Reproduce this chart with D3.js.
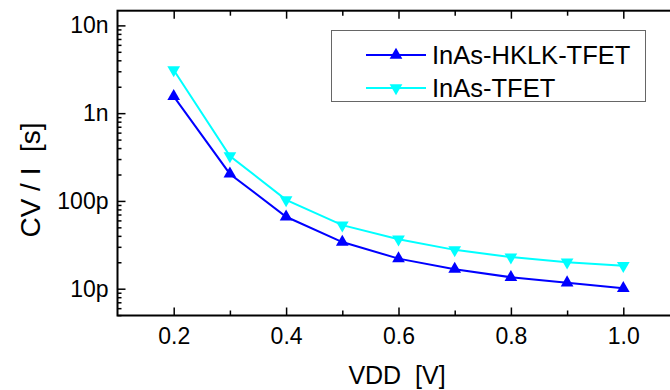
<!DOCTYPE html>
<html>
<head>
<meta charset="utf-8">
<script src="https://cdn.jsdelivr.net/npm/d3@7/dist/d3.min.js"></script>
<style>
  body { margin: 0; background: #fff; }
  text { font-family: Arial, "Liberation Sans", sans-serif; fill: #000; white-space: pre; }
</style>
</head>
<body>
<svg id="chart" width="670" height="390"></svg>
<script>
// supply voltage (V)
var vdd = [0.2, 0.3, 0.4, 0.5, 0.6, 0.7, 0.8, 0.9, 1.0];
// CV/I delay (s)
var hklkDelay = [1.55e-9, 2.03e-10, 6.6e-11, 3.4e-11, 2.2e-11, 1.67e-11, 1.35e-11, 1.17e-11, 1.01e-11];
var tfetDelay = [3.1e-9, 3.25e-10, 1.03e-10, 5.3e-11, 3.66e-11, 2.77e-11, 2.29e-11, 2.0e-11, 1.83e-11];
var seriesNames = ["InAs-HKLK-TFET", "InAs-TFET"];
var xMajor = [0.2, 0.4, 0.6, 0.8, 1.0];
var xMinor = [0.3, 0.5, 0.7, 0.9];
var yMajor = [1e-11, 1e-10, 1e-9, 1e-8];
var yLabels = ["10p", "100p", "1n", "10n"];

var svg = d3.select('#chart');

var plotL = 117.5, plotR = 679.5, plotT = 10.7, plotB = 315.5;

var x = d3.scaleLinear().domain([0.1, 1.1]).range([plotL, plotR]);
var y = d3.scaleLog().domain([4.95e-12, 1.47e-8]).range([plotB, plotT]);

// minor y ticks: 2..9 per decade inside the domain
var yMinor = [];
[1e-12, 1e-11, 1e-10, 1e-9, 1e-8].forEach(function(d) {
    for (var k = 2; k <= 9; k++) {
        var v = d * k;
        if (v >= y.domain()[0] && v <= y.domain()[1]) yMinor.push(v);
    }
});

function clean(g) {
    g.select('.domain').remove();
    g.selectAll('line').attr('stroke', '#000').attr('stroke-width', 1.5);
}

// bottom axis
svg.append('g').attr('transform', 'translate(0,' + plotB + ')')
    .call(d3.axisBottom(x).tickValues(xMajor).tickSize(-8).tickPadding(12)
        .tickFormat(d3.format('.1f')))
    .call(clean)
    .selectAll('text').style('font-size', '23px').attr('dy', '0.71em');
svg.append('g').attr('transform', 'translate(0,' + plotB + ')')
    .call(d3.axisBottom(x).tickValues(xMinor).tickSize(-5).tickFormat(''))
    .call(clean);
// top axis
svg.append('g').attr('transform', 'translate(0,' + plotT + ')')
    .call(d3.axisTop(x).tickValues(xMajor).tickSize(-8).tickFormat(''))
    .call(clean);
svg.append('g').attr('transform', 'translate(0,' + plotT + ')')
    .call(d3.axisTop(x).tickValues(xMinor).tickSize(-5).tickFormat(''))
    .call(clean);

// left axis
svg.append('g').attr('transform', 'translate(' + plotL + ',0)')
    .call(d3.axisLeft(y).tickValues(yMajor).tickSize(-8).tickPadding(9)
        .tickFormat(function(d, i) { return yLabels[i]; }))
    .call(clean)
    .selectAll('text').style('font-size', '23px');
svg.append('g').attr('transform', 'translate(' + plotL + ',0)')
    .call(d3.axisLeft(y).tickValues(yMinor).tickSize(-4).tickFormat(''))
    .call(clean);

// frame
svg.append('rect')
    .attr('x', plotL).attr('y', plotT)
    .attr('width', plotR - plotL).attr('height', plotB - plotT)
    .attr('fill', 'none').attr('stroke', '#000').attr('stroke-width', 2);

// series
var series = [
    { name: seriesNames[0], values: hklkDelay, color: '#0000ff', up: true },
    { name: seriesNames[1], values: tfetDelay, color: '#00ffff', up: false }
];

var line = d3.line()
    .x(function(d) { return x(d[0]); })
    .y(function(d) { return y(d[1]); });

var tri = d3.symbol().type(d3.symbolTriangle).size(70);

series.slice().reverse().forEach(function(s) {
    var pts = d3.zip(vdd, s.values);
    svg.append('path').datum(pts)
        .attr('d', line)
        .attr('fill', 'none')
        .attr('stroke', s.color)
        .attr('stroke-width', 2);
    svg.selectAll(null).data(pts).enter().append('path')
        .attr('d', tri)
        .attr('transform', function(d) {
            return 'translate(' + x(d[0]) + ',' + y(d[1]) + ')' + (s.up ? '' : ' rotate(180)');
        })
        .attr('fill', s.color);
});

// legend
var legend = svg.append('g');
legend.append('rect')
    .attr('x', 331.5).attr('y', 30.5).attr('width', 314).attr('height', 71)
    .attr('fill', '#fff').attr('stroke', '#666').attr('stroke-width', 1);
series.forEach(function(s, i) {
    var ly = 55 + i * 33;
    legend.append('line')
        .attr('x1', 366).attr('x2', 426).attr('y1', ly).attr('y2', ly)
        .attr('stroke', s.color).attr('stroke-width', 2);
    legend.append('path')
        .attr('d', tri)
        .attr('transform', 'translate(396,' + ly + ')' + (s.up ? '' : ' rotate(180)'))
        .attr('fill', s.color);
    legend.append('text')
        .attr('x', 432).attr('y', ly).attr('dy', '0.36em')
        .style('font-size', '25.5px')
        .text(s.name);
});

// axis titles
svg.append('text')
    .attr('x', 397).attr('y', 384)
    .attr('text-anchor', 'middle')
    .style('font-size', '25px')
    .text('VDD  [V]');
svg.append('text')
    .attr('transform', 'translate(40,180) rotate(-90)')
    .attr('text-anchor', 'middle')
    .style('font-size', '28px')
    .text('CV / I  [s]');
</script>
</body>
</html>
